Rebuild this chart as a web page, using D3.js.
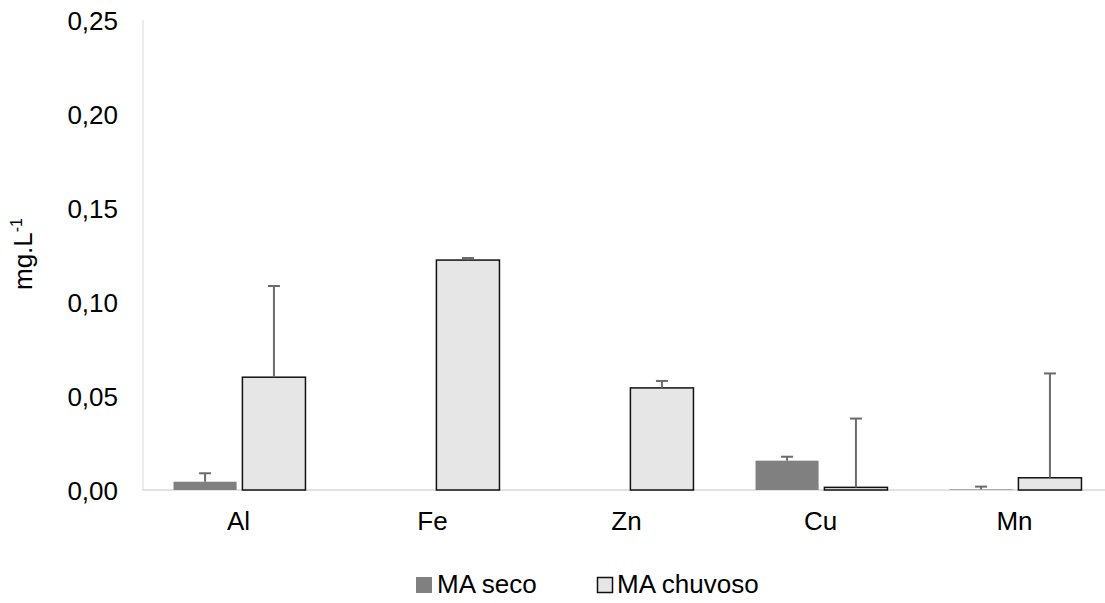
<!DOCTYPE html>
<html><head><meta charset="utf-8">
<script src="https://cdn.jsdelivr.net/npm/d3@7"></script>
<style>body{margin:0;background:#fff}svg{display:block}text{font-family:"Liberation Sans",Arial,sans-serif}</style>
</head><body><svg id="c" width="1105" height="603"></svg>
<script>
const categories = ["Al","Fe","Zn","Cu","Mn"];
const seriesNames = ["MA seco","MA chuvoso"];
const seco = [0.0044, 0, 0, 0.0156, 0.0003];
const secoErr = [0.0045, 0, 0, 0.0021, 0.0015];
const chuvoso = [0.060, 0.1223, 0.0543, 0.0014, 0.0065];
const chuvosoErr = [0.0485, 0.0011, 0.0037, 0.0366, 0.0555];
const yTicks = [0, 0.05, 0.10, 0.15, 0.20, 0.25];

const svg = d3.select("#c");
const x = d3.scaleBand().domain(categories).range([142.5, 1112.5]);
const y = d3.scaleLinear().domain([0, 0.25]).range([490, 20]);
const bw = x.bandwidth();
const barW = bw*0.325, gap = bw*0.03;
const fmt = d => d3.format(".2f")(d).replace(".", ",");
const FS = 26;

svg.append("line").attr("x1",x.range()[0]).attr("x2",1105).attr("y1",y(0)).attr("y2",y(0)).attr("stroke","#d9d9d9").attr("stroke-width",1.5);
svg.append("line").attr("x1",143).attr("x2",143).attr("y1",y(0.25)).attr("y2",y(0)).attr("stroke","#d9d9d9").attr("stroke-width",1);

const yAxis = d3.axisLeft(y).tickValues(yTicks).tickFormat(fmt).tickSize(0).tickPadding(0);
const ga = svg.append("g").attr("transform","translate(118,0)").call(yAxis);
ga.attr("font-size",FS).attr("font-family",null);
ga.select(".domain").remove();
ga.selectAll("text").attr("font-size",FS).attr("fill","#000").attr("dy","0.35em");

const xAxis = d3.axisBottom(x).tickSize(0).tickPadding(0);
const gx = svg.append("g").attr("transform","translate(0,511)").call(xAxis);
gx.attr("font-size",FS).attr("font-family",null);
gx.select(".domain").remove();
gx.selectAll("text").attr("font-size",FS).attr("fill","#000").attr("dy","0.72em").attr("dx",-1);

const cx = c => x(c) + bw/2;
svg.append("g").selectAll("rect").data(categories).join("rect")
  .attr("x", c => cx(c) - gap/2 - barW).attr("width", barW)
  .attr("y", (c,i) => y(seco[i])).attr("height", (c,i) => y(0)-y(seco[i]))
  .attr("fill","#808080");
svg.append("g").selectAll("rect").data(categories).join("rect")
  .attr("x", c => cx(c) + gap/2).attr("width", barW)
  .attr("y", (c,i) => y(chuvoso[i])).attr("height", (c,i) => y(0)-y(chuvoso[i]))
  .attr("fill","#e6e6e6").attr("stroke","#111").attr("stroke-width",1.5);

function err(vals, errs, off){
  const g = svg.append("g").attr("stroke","#6b6b6b").attr("stroke-width",2);
  categories.forEach((c,i) => {
    if (!errs[i]) return;
    const xc = cx(c) + off;
    g.append("line").attr("x1",xc).attr("x2",xc).attr("y1",y(vals[i])).attr("y2",y(vals[i]+errs[i]));
    g.append("line").attr("x1",xc-6).attr("x2",xc+6).attr("y1",y(vals[i]+errs[i])).attr("y2",y(vals[i]+errs[i]));
  });
}
err(seco, secoErr, -gap/2 - barW/2);
err(chuvoso, chuvosoErr, gap/2 + barW/2);

svg.append("text").attr("transform","translate(32,254) rotate(-90)").attr("text-anchor","middle")
  .attr("font-size",FS).attr("fill","#000")
  .html('mg.L<tspan dy="-10" font-size="16">-1</tspan>');

const leg = svg.append("g");
leg.append("rect").attr("x",416).attr("y",577).attr("width",16).attr("height",16).attr("fill","#808080");
leg.append("text").attr("x",437).attr("y",593).attr("font-size",FS).text(seriesNames[0]);
leg.append("rect").attr("x",597.5).attr("y",577.5).attr("width",15).attr("height",15).attr("fill","#e6e6e6").attr("stroke","#111").attr("stroke-width",1.5);
leg.append("text").attr("x",617).attr("y",593).attr("font-size",FS).text(seriesNames[1]);
</script></body></html>
